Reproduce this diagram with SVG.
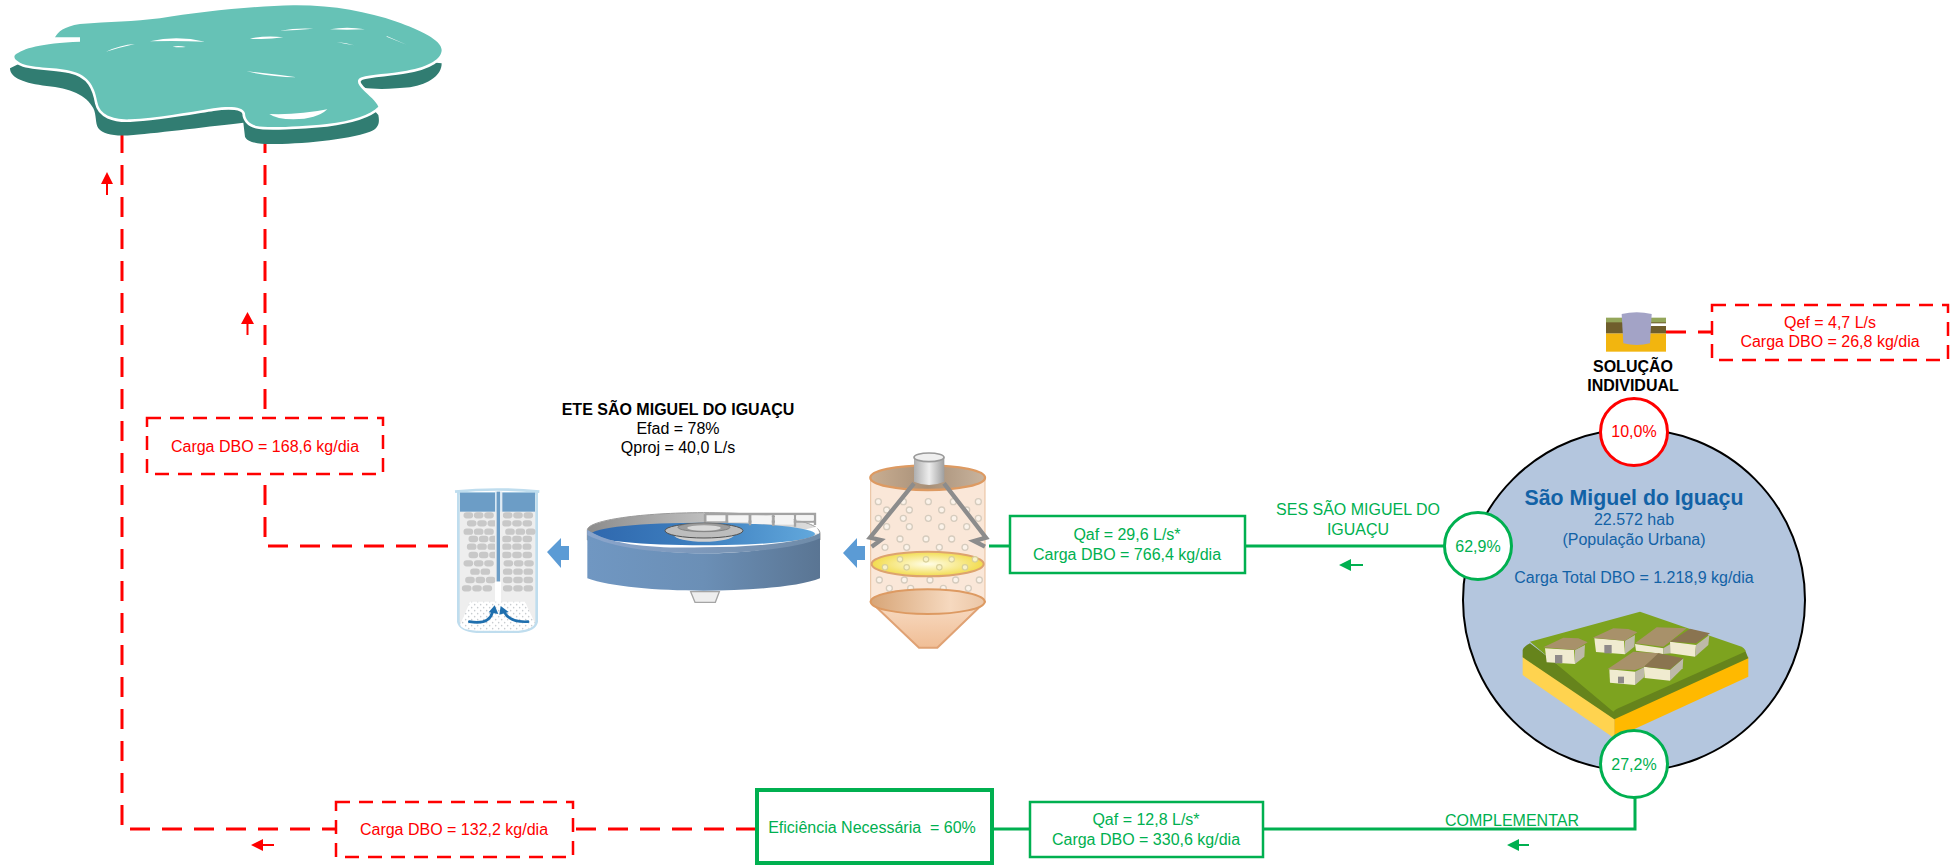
<svg xmlns="http://www.w3.org/2000/svg" width="1950" height="865" viewBox="0 0 1950 865">
<style>
text{font-family:"Liberation Sans",Arial,sans-serif;font-size:16px;text-anchor:middle;white-space:pre}
.r{fill:#FF0000}.g{fill:#00B050}.k{fill:#000}.b{font-weight:bold}.n{fill:#1262A6}
.rl{fill:none;stroke:#FF0000;stroke-width:3;stroke-dasharray:20 12}
.rb{fill:#fff;stroke:#FF0000;stroke-width:2.5;stroke-dasharray:14 9}
.gl{fill:none;stroke:#00B050;stroke-width:3}
.gb{fill:#fff;stroke:#00B050;stroke-width:2.5}
.cg{fill:#fff;stroke:#00B050;stroke-width:3}
.cr{fill:#fff;stroke:#FF0000;stroke-width:3}
.hi{fill:#fff}
.roof{fill:#A8916A}.roofd{fill:#8A7450}.wall{fill:#F0EBD0}.side{fill:#BDB9A8}.door{fill:#8F8A8A}
.arc{fill:none;stroke:#1F6FAE;stroke-width:8;stroke-linecap:round}
</style>
<defs>
<linearGradient id="body" x1="0" x2="1" y1="0" y2="0"><stop offset="0" stop-color="#7097C2"/><stop offset=".5" stop-color="#6B8FB6"/><stop offset="1" stop-color="#5A7593"/></linearGradient>
<linearGradient id="band" x1="0" x2="1" y1="0" y2="0"><stop offset="0" stop-color="#8AA5CC"/><stop offset="1" stop-color="#6F8BA8"/></linearGradient>
<linearGradient id="water" x1="0" x2="1" y1="0" y2="0"><stop offset="0" stop-color="#2F68AE"/><stop offset=".5" stop-color="#3E80C0"/><stop offset="1" stop-color="#62A8DC"/></linearGradient>
<linearGradient id="pipe" x1="0" x2="1" y1="0" y2="0"><stop offset="0" stop-color="#AEAEAE"/><stop offset=".5" stop-color="#EDEDED"/><stop offset="1" stop-color="#9E9E9E"/></linearGradient>
<linearGradient id="rim" x1="0" x2="1" y1="0" y2="0"><stop offset="0" stop-color="#8C8C8C"/><stop offset=".6" stop-color="#C8C8C8"/><stop offset="1" stop-color="#DDD"/></linearGradient>
<linearGradient id="cone" x1="0" x2="0" y1="0" y2="1"><stop offset="0" stop-color="#F8DCC4"/><stop offset="1" stop-color="#F0BE96"/></linearGradient>
<linearGradient id="bowl" x1="0" x2="1" y1="0" y2="0"><stop offset="0" stop-color="#D7A577"/><stop offset=".7" stop-color="#F6D9BF"/><stop offset="1" stop-color="#EBC6A6"/></linearGradient>
<linearGradient id="lid" x1="0" x2="1" y1="0" y2="0"><stop offset="0" stop-color="#C9AE92"/><stop offset=".5" stop-color="#A89078"/><stop offset="1" stop-color="#C9B49E"/></linearGradient>
<radialGradient id="yellow"><stop offset="0" stop-color="#FFFDE8"/><stop offset="1" stop-color="#F2DC4E"/></radialGradient>
<pattern id="sand" width="18" height="18" patternUnits="userSpaceOnUse"><circle cx="5" cy="5" r="2.400" fill="#C8CCD0"/><circle cx="14" cy="14" r="2.400" fill="#C8CCD0"/></pattern>
<path id="bubs" d="M85,185h0M160,185h0M235,185h0M310,185h0M385,185h0M110,210h0M178,210h0M275,210h0M350,210h0M85,235h0M160,235h0M235,235h0M312,235h0M385,235h0M110,260h0M178,260h0M275,260h0M350,260h0M150,297h0M228,297h0M305,297h0M105,322h0M170,322h0M268,322h0M345,322h0M88,420h0M163,420h0M240,420h0M317,420h0M388,420h0M118,445h0M182,445h0M280,445h0M355,445h0" stroke-linecap="round" fill="none"/>
</defs>

<g id="connectors">
<path class="rl" d="M122,133V829H336"/>
<path class="rl" d="M265,133V418"/>
<path class="rl" d="M448,546H265V474"/>
<path class="rl" d="M756,829H573"/>
<path class="rl" d="M1666,332H1712"/>
<path class="gl" d="M1010,546H989"/>
<path class="gl" d="M1444,546H1245"/>
<path class="gl" d="M1030,829H993"/>
<path class="gl" d="M1635,798V829H1263"/>
<path fill="#FF0000" d="M107,172L113,184H108V195H106V184H101Z"/>
<path fill="#FF0000" d="M247.500,312L254,324H248.500V335H246.500V324H241Z"/>
<path fill="#FF0000" d="M251,845L263,839V844H274V846H263V851Z"/>
<path fill="#00B050" d="M1339,565L1351,559V564H1363V566H1351V571Z"/>
<path fill="#00B050" d="M1507,845L1519,839V844H1529V846H1519V851Z"/>
</g>

<g id="lago" transform="scale(.33333)">
<path fill="#317D72" d="M30,205C30,235 75,250 140,258C210,265 260,285 280,325C290,345 285,370 295,385C310,405 350,410 400,405C480,398 640,378 730,368L735,410C740,425 770,432 810,432C900,432 1040,420 1110,395C1135,385 1140,370 1135,345L1050,250C1080,272 1170,268 1230,262C1290,252 1325,225 1325,190L900,150L100,170Z"/>
<path fill="none" stroke="#fff" stroke-width="16" d="M1325,150C1325,175 1290,200 1220,212C1170,222 1110,222 1085,232C1065,240 1075,255 1090,270C1105,285 1130,305 1135,320C1110,345 1060,362 980,372C900,380 800,385 770,378C745,372 735,355 735,340C730,320 690,318 640,325C560,338 470,355 390,358C340,360 300,345 293,310C285,265 270,225 210,212C160,200 90,205 60,188C45,180 40,172 45,165"/>
<path fill="#66C2B6" d="M45,165C70,145 120,130 240,125L240,112L165,112C175,95 190,80 240,72C330,65 400,65 480,55C600,35 760,18 880,16C1000,15 1100,35 1190,65C1260,90 1325,120 1325,150C1325,175 1290,200 1220,212C1170,222 1110,222 1085,232C1065,240 1075,255 1090,270C1105,285 1130,305 1135,320C1110,345 1060,362 980,372C900,380 800,385 770,378C745,372 735,355 735,340C730,320 690,318 640,325C560,338 470,355 390,358C340,360 300,345 293,310C285,265 270,225 210,212C160,200 90,205 60,188C45,180 40,172 45,165Z"/>
<path class="hi" d="M318,155Q360,135 405,132Q360,142 318,155ZM450,124Q530,105 615,125Q530,122 450,124ZM518,140Q535,135 558,141Q535,143 518,140ZM750,116Q800,105 850,112Q800,120 750,116ZM840,92Q890,83 940,86Q890,90 840,92ZM990,88Q1040,78 1095,88Q1040,90 990,88ZM1160,108L1220,134L1160,110ZM1010,126Q1040,128 1062,136Q1035,132 1010,126ZM740,214Q820,222 890,232Q810,230 740,214ZM808,342Q900,345 982,328Q950,358 880,358Q830,358 808,342Z"/>
</g>

<g id="tanque-final" transform="translate(440,480) scale(.33333)">
<path d="M55,40V425Q60,450 110,455H235Q285,450 290,425V40Z" fill="#EEEEEE" stroke="#BFDDEE" stroke-width="8"/>
<path d="M45,35Q170,22 298,35" fill="none" stroke="#BFDDEE" stroke-width="8"/>
<rect x="60" y="38" width="225" height="57" fill="#6C9DC6"/>
<g fill="none" stroke="#C8C8C8" stroke-width="19" stroke-dasharray="10 21" stroke-linecap="round">
<path d="M80,106H160M198,106H280M90,130H165M195,130H275M80,155H160M205,155H280M95,177H165M195,177H270M90,200H160M195,200H265M95,225H165M195,225H275M80,250H160M200,250H275M100,275H150M198,275H275M85,300H160M198,300H275M75,325H150M198,325H275"/>
</g>
<rect x="165" y="35" width="22" height="335" fill="#EEEEEE"/>
<rect x="165" y="35" width="20" height="60" fill="#D8E8F4"/>
<rect x="170" y="35" width="10" height="270" fill="#6C9DC6"/>
<rect x="165" y="305" width="18" height="65" fill="#fff"/>
<path d="M60,435L90,365H255L285,430Q280,448 235,452H110Q65,450 60,435Z" fill="#fff"/>
<path d="M60,435L90,365H255L285,430Q280,448 235,452H110Q65,450 60,435Z" fill="url(#sand)"/>
<path class="arc" d="M88,425Q148,436 158,395"/><path fill="#1F6FAE" d="M164,376L175,402L146,397Z"/>
<path class="arc" d="M264,425Q208,428 192,395"/><path fill="#1F6FAE" d="M182,378L206,396L178,404Z"/>
</g>
<path id="seta-1" fill="#5B9BD5" d="M547,552L561,538V546H569V560H561V568Z"/>

<g id="decantador" transform="translate(560,490) scale(.33333)">
<path d="M82,120C82,90 250,68 430,68C620,68 780,90 780,130L780,150L82,150Z" fill="url(#rim)" stroke="#999" stroke-width="3"/>
<path d="M770,110L778,130L600,150Z" fill="#fff"/>
<ellipse cx="430" cy="132" rx="335" ry="34" fill="url(#water)"/>
<path d="M435,72H765V105M435,72V100M500,72V100M570,72V106M640,72V108M705,72V110M440,95H765" fill="none" stroke="#A3A3A3" stroke-width="7"/>
<g fill="#F4F4F4"><rect x="440" y="76" width="56" height="18"/><rect x="505" y="76" width="60" height="22"/><rect x="575" y="76" width="60" height="26"/><rect x="645" y="76" width="56" height="28"/><rect x="710" y="76" width="50" height="16"/></g>
<path d="M82,120C160,170 300,190 430,190C570,190 720,170 780,130V265C720,290 570,302 430,302C290,302 150,290 82,265Z" fill="url(#body)"/>
<path d="M82,120C160,170 300,175 430,172C570,172 720,160 780,130V145C720,172 570,190 430,190C300,190 160,175 82,135Z" fill="url(#band)"/>
<ellipse cx="432" cy="135" rx="90" ry="20" fill="#CFCFCF"/>
<ellipse cx="432" cy="122" rx="117" ry="22" fill="#BDBDBD" stroke="#4F4F4F" stroke-width="3"/>
<ellipse cx="432" cy="112" rx="78" ry="13" fill="#9C9C9C" stroke="#707070" stroke-width="2"/>
<ellipse cx="432" cy="114" rx="50" ry="8" fill="#D9D9D9"/>
<path d="M392,305H478L466,337H405Z" fill="#EEE" stroke="#A5A5A5" stroke-width="4"/>
</g>
<path id="seta-2" fill="#5B9BD5" d="M843,553L857,538V546H865V560H857V568Z"/>

<g id="digestor" transform="translate(850,440) scale(.33333)">
<rect x="62" y="113" width="343" height="372" fill="#FAE7D8" stroke="#E8BE9A" stroke-width="3"/>
<use href="#bubs" stroke="#D6CCBE" stroke-width="22"/>
<use href="#bubs" stroke="#FBF3EA" stroke-width="14"/>
<ellipse cx="233" cy="113" rx="172" ry="37" fill="url(#lid)" stroke="#DD9A62" stroke-width="7"/>
<ellipse cx="233" cy="372" rx="168" ry="37" fill="url(#yellow)" stroke="#DDA36F" stroke-width="6"/>
<path d="M150,358h0M228,358h0M305,358h0M375,358h0M105,382h0M170,382h0M268,382h0M345,382h0" stroke="#D8D09A" stroke-width="20" stroke-linecap="round"/>
<path d="M150,358h0M228,358h0M305,358h0M375,358h0M105,382h0M170,382h0M268,382h0M345,382h0" stroke="#F8F2C8" stroke-width="13" stroke-linecap="round"/>
<path d="M62,485L207,623H262L405,485Z" fill="url(#cone)" stroke="#E0A274" stroke-width="6" stroke-linejoin="round"/>
<ellipse cx="233" cy="485" rx="171" ry="37" fill="url(#bowl)" stroke="#DD9A62" stroke-width="6"/>
<path d="M192,130L60,293L92,300L65,320M282,130L408,293L372,303L405,320" fill="none" stroke="#8C8C8C" stroke-width="13"/>
<path d="M192,52V125Q237,145 283,125V52Z" fill="url(#pipe)"/>
<ellipse cx="237" cy="52" rx="45" ry="13" fill="#EFEFEF" stroke="#9A9A9A" stroke-width="5"/>
</g>

<g id="municipio">
<circle cx="1634" cy="600" r="171" fill="#B4C6DE" stroke="#000" stroke-width="2"/>
<text class="n b" x="1634" y="505" style="font-size:21.300px">São Miguel do Iguaçu</text>
<text class="n" x="1634" y="525">22.572 hab</text>
<text class="n" x="1634" y="545">(População Urbana)</text>
<text class="n" x="1634" y="583">Carga Total DBO = 1.218,9 kg/dia</text>
<g transform="translate(1450,590) scale(.33333)">
<path fill="#FFD34F" d="M218,195L493,380V445L218,255Z"/>
<path fill="#FFB900" d="M493,380L895,200V260L493,445Z"/>
<path fill="#66841C" d="M218,180Q220,170 240,160L495,355L885,180L895,205L493,388L218,202Z"/>
<path fill="#7DA31F" d="M240,155L570,65L875,170Q890,180 885,185L515,350Q495,358 490,365Z"/>
<path class="wall" d="M285,175L372,180L375,222L290,217Z"/><path class="side" d="M375,180L405,165L403,200L375,222Z"/><path class="roof" d="M280,172L340,143L385,145L413,157L375,180Z"/><rect class="door" x="315" y="195" width="22" height="25"/>
<path class="wall" d="M433,145L522,152L525,193L438,186Z"/><path class="side" d="M525,152L555,135L553,170L525,193Z"/><path class="roof" d="M428,143L490,115L535,117L562,127L525,152Z"/><rect class="door" x="463" y="165" width="22" height="25"/>
<path class="wall" d="M555,162L640,175V192L558,182Z"/><path class="side" d="M640,175L665,160V190L640,192Z"/><path class="roof" d="M555,160L620,112L710,115L660,155L640,170Z"/>
<path class="wall" d="M660,155L738,165L735,200L662,190Z"/><path class="side" d="M738,165L778,135L775,165L735,200Z"/><path class="roofd" d="M660,155L720,116L780,130L738,160Z"/>
<path class="wall" d="M478,238L555,245V285L480,278Z"/><path class="side" d="M555,245L585,230L582,262L555,285Z"/><path class="roof" d="M472,238L550,185L630,190L580,232L555,240Z"/><rect class="door" x="504" y="260" width="18" height="20"/>
<path class="wall" d="M582,230L660,240V272L584,264Z"/><path class="side" d="M660,240L700,205L698,235L660,272Z"/><path class="roofd" d="M582,230L625,190L700,205L660,238Z"/>
</g>
</g>

<g id="solucao-individual">
<g transform="translate(1430,290) scale(.33333)">
<rect x="528" y="130" width="180" height="55" fill="#F2B50F"/>
<rect x="528" y="95" width="180" height="35" fill="#6F5E2C"/>
<rect x="528" y="83" width="180" height="14" fill="#94A65A"/>
<rect x="660" y="100" width="48" height="8" fill="#fff"/>
<path d="M575,72Q620,62 665,72L660,160Q620,170 580,160Z" fill="#A3A3C6"/>
</g>
<text class="k b" x="1633" y="372">SOLUÇÃO</text>
<text class="k b" x="1633" y="391">INDIVIDUAL</text>
</g>

<g id="p-10"><circle class="cr" cx="1634" cy="432" r="33.500"/><text class="r" x="1634" y="437">10,0%</text></g>
<g id="p-62"><circle class="cg" cx="1478" cy="546" r="33.500"/><text class="g" x="1478" y="552">62,9%</text></g>
<g id="p-27"><circle class="cg" cx="1634" cy="764" r="33.500"/><text class="g" x="1634" y="770">27,2%</text></g>

<g id="box-qef"><rect class="rb" x="1712" y="305" width="236" height="55"/><text class="r" x="1830" y="328">Qef = 4,7 L/s</text><text class="r" x="1830" y="347">Carga DBO = 26,8 kg/dia</text></g>
<g id="box-ete"><rect class="rb" x="147" y="418" width="236" height="56"/><text class="r" x="265" y="452">Carga DBO = 168,6 kg/dia</text></g>
<g id="box-132"><rect class="rb" x="336" y="802" width="237" height="55"/><text class="r" x="454" y="835">Carga DBO = 132,2 kg/dia</text></g>
<g id="box-ef"><rect fill="#fff" stroke="#00B050" stroke-width="4" x="757" y="790" width="235" height="73"/><text class="g" x="872" y="833">Eficiência Necessária  = 60%</text></g>
<g id="box-128"><rect class="gb" x="1030" y="802" width="233" height="55"/><text class="g" x="1146" y="825">Qaf = 12,8 L/s*</text><text class="g" x="1146" y="845">Carga DBO = 330,6 kg/dia</text></g>
<g id="box-296"><rect class="gb" x="1010" y="516" width="235" height="57"/><text class="g" x="1127" y="540">Qaf = 29,6 L/s*</text><text class="g" x="1127" y="560">Carga DBO = 766,4 kg/dia</text></g>

<g id="ete-label"><text class="k b" x="678" y="415">ETE SÃO MIGUEL DO IGUAÇU</text><text class="k" x="678" y="434">Efad = 78%</text><text class="k" x="678" y="453">Qproj = 40,0 L/s</text></g>
<g id="labels"><text class="g" x="1358" y="515">SES SÃO MIGUEL DO</text><text class="g" x="1358" y="535">IGUAÇU</text><text class="g" x="1512" y="826">COMPLEMENTAR</text></g>
</svg>
